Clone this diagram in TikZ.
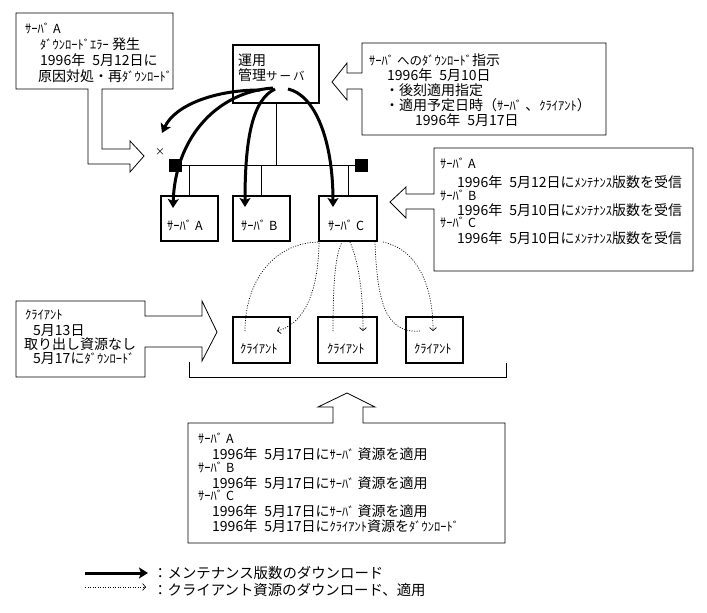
\documentclass[tikz,border=0pt]{standalone}
\usepackage{fontspec}
\setmainfont{Noto Sans CJK JP}
\usetikzlibrary{arrows.meta}
\newcommand\hk[1]{{\fontsize{12.5}{13}\selectfont #1}}
\newcommand\dsp{\hspace{7pt}}
\begin{document}
\begin{tikzpicture}[x=1pt,y=-1pt,
  box/.style={draw, line width=2pt, inner sep=0pt},
  call/.style={draw, line width=0.8pt, line join=miter},
  txt/.style={anchor=base west, inner sep=0pt, font=\fontsize{14}{16}\selectfont},
  thinl/.style={line width=0.8pt},
  maint/.style={line width=3pt, -{Stealth[length=9pt,width=11pt,inset=2pt]}},
  cli/.style={line width=0.7pt, dash pattern=on 1pt off 1.5pt, -{Straight Barb[length=3pt,width=7pt]}},
  cliline/.style={line width=0.7pt, dash pattern=on 1pt off 1.5pt},
  sq/.style={fill=black, minimum size=13pt, inner sep=0pt}]
\useasboundingbox (0,0) rectangle (707,613);
\fill[white] (0,0) rectangle (707,613);

% boxes
\node[box, minimum width=86pt, minimum height=58pt] (mgmt) at (276,74) {};
\node[box, minimum width=57pt, minimum height=45pt] (srvA) at (189.5,218.5) {};
\node[box, minimum width=57pt, minimum height=45pt] (srvB) at (261.5,218.5) {};
\node[box, minimum width=58pt, minimum height=45pt] (srvC) at (348,218.5) {};
\node[box, minimum width=57pt, minimum height=46pt] (cl1) at (261.5,340) {};
\node[box, minimum width=59pt, minimum height=46pt] (cl2) at (347.5,340) {};
\node[box, minimum width=57pt, minimum height=46pt] (cl3) at (434.5,340) {};

% network
\coordinate (busM) at (276,165);
\node[sq] (sqL) at (175,165) {};
\node[sq] (sqR) at (361,165) {};
\draw[thinl] (sqL.center) -- (sqR.center);
\draw[thinl] (mgmt.south) -- (busM);
\draw[thinl] (srvA.north |- busM) -- (srvA.north);
\draw[thinl] (srvB.north |- busM) -- (srvB.north);
\draw[thinl] (srvC.north |- busM) -- (srvC.north);

% box texts
\node[txt] (mt1) at (238,65) {運用};
\node[txt] (mt2) at (238,80) {管理{\fontsize{11.5}{12}\selectfont サ\hspace{2pt}ー\hspace{2pt}バ}};
\node[txt] (tA) at (167,230) {\hk{ｻｰﾊﾞ A}};
\node[txt] (tB) at (241,230) {\hk{ｻｰﾊﾞ B}};
\node[txt] (tC) at (328,230) {\hk{ｻｰﾊﾞ C}};
\node[txt] (t1) at (240,353) {\hk{ｸﾗｲｱﾝﾄ}};
\node[txt] (t2) at (327,353) {\hk{ｸﾗｲｱﾝﾄ}};
\node[txt] (t3) at (414,353) {\hk{ｸﾗｲｱﾝﾄ}};

% x mark
\node[inner sep=0pt, font=\fontsize{10}{10}\selectfont] (xmark) at (160,152) {×};

% maintenance arrows
\coordinate (m1) at (260,90);
\coordinate (m2) at (273,88);
\coordinate (m3) at (275,89);
\coordinate (m4) at (288,89);
\coordinate (e1) at (162,133);
\coordinate (eA) at (173,208);
\coordinate (eB) at (245,207);
\coordinate (eC) at (333,207);
\draw[maint] (m1) .. controls (215,90) and (175,105) .. (e1);
\draw[maint] (m2) .. controls (215,92) and (175,140) .. (eA);
\draw[maint] (m3) .. controls (252,100) and (245,140) .. (eB);
\draw[maint] (m4) .. controls (315,95) and (333,140) .. (eC);

% client download arrows
\coordinate (d1s) at (245,331); \coordinate (d1e) at (320,242);
\coordinate (d2s) at (319,243); \coordinate (d2e) at (277,331);
\coordinate (d3s) at (333,331); \coordinate (d3e) at (342,242);
\coordinate (d4s) at (350,242); \coordinate (d4e) at (363,331);
\coordinate (d5s) at (420,331); \coordinate (d5e) at (375,242);
\coordinate (d6s) at (383,242); \coordinate (d6e) at (433,331);
\draw[cliline] (d1s) .. controls (245,280) and (275,242) .. (d1e);
\draw[cli] (d2s) .. controls (318,300) and (300,325) .. (d2e);
\draw[cliline] (d3s) .. controls (333,270) and (337,252) .. (d3e);
\draw[cli] (d4s) .. controls (358,260) and (363,290) .. (d4e);
\draw[cliline] (d5s) .. controls (385,334) and (377,300) .. (d5e);
\draw[cli] (d6s) .. controls (420,250) and (433,290) .. (d6e);

% bracket under clients
\draw[thinl] (189,362) -- (189,377) -- (506,377) -- (506,363);

% callouts
\draw[call] (16,13) -- (173,13) -- (173,89) -- (102,89) -- (102,149) -- (130,149) -- (130,141) -- (144,156) -- (130,172) -- (130,164) -- (88,164) -- (88,89) -- (16,89) -- cycle;
\draw[call] (362,43) -- (606,43) -- (606,135) -- (362,135) -- (362,89) -- (347,89) -- (347,100) -- (332,82) -- (347,63) -- (347,73) -- (362,73) -- cycle;
\draw[call] (434,148) -- (693,148) -- (693,271) -- (434,271) -- (434,209) -- (406,209) -- (406,218) -- (390,202) -- (406,187) -- (406,194) -- (434,194) -- cycle;
\draw[call] (16,301) -- (145,301) -- (145,316) -- (202,316) -- (202,301) -- (217,332) -- (202,361) -- (202,347) -- (145,347) -- (145,377) -- (16,377) -- cycle;
\draw[call] (188,423) -- (333,423) -- (333,407) -- (318,407) -- (347,393) -- (375,407) -- (363,407) -- (363,423) -- (505,423) -- (505,543) -- (188,543) -- cycle;

% callout 1 text
\node[txt] (c1a) at (25,33) {\hk{ｻｰﾊﾞ A}};
\node[txt] (c1b) at (40,49) {\hk{ﾀﾞｳﾝﾛｰﾄﾞｴﾗｰ} 発生};
\node[txt] (c1c) at (40,65) {1996年\dsp 5月12日に};
\node[txt] (c1d) at (38,81) {原因対処・再\hk{ﾀﾞｳﾝﾛｰﾄﾞ}};

% callout 2 text
\node[txt] (c2a) at (369,65) {\hk{ｻｰﾊﾞ へのﾀﾞｳﾝﾛｰﾄﾞ}指示};
\node[txt] (c2b) at (387,80) {1996年\dsp 5月10日};
\node[txt] (c2c) at (385,95) {・後刻適用指定};
\node[txt] (c2d) at (385,110) {・適用予定日時（\hk{ｻｰﾊﾞ} 、\hk{ｸﾗｲｱﾝﾄ}）};
\node[txt] (c2e) at (415,125) {1996年\dsp 5月17日};

% callout 3 text
\node[txt] (c3a) at (440,168) {\hk{ｻｰﾊﾞ A}};
\node[txt] (c3b) at (457,187) {1996年\dsp 5月12日に\hk{ﾒﾝﾃﾅﾝｽ}版数を受信};
\node[txt] (c3c) at (440,200) {\hk{ｻｰﾊﾞ B}};
\node[txt] (c3d) at (457,215) {1996年\dsp 5月10日に\hk{ﾒﾝﾃﾅﾝｽ}版数を受信};
\node[txt] (c3e) at (440,227) {\hk{ｻｰﾊﾞ C}};
\node[txt] (c3f) at (457,243) {1996年\dsp 5月10日に\hk{ﾒﾝﾃﾅﾝｽ}版数を受信};

% callout 4 text
\node[txt] (c4a) at (25,319) {\hk{ｸﾗｲｱﾝﾄ}};
\node[txt] (c4b) at (33,335) {5月13日};
\node[txt] (c4c) at (24,349) {取り出し資源なし};
\node[txt] (c4d) at (33,363) {5月17に\hk{ﾀﾞｳﾝﾛｰﾄﾞ}};

% callout 5 text
\node[txt] (c5a) at (198,443) {\hk{ｻｰﾊﾞ A}};
\node[txt] (c5b) at (212,459) {1996年\dsp 5月17日に\hk{ｻｰﾊﾞ} 資源を適用};
\node[txt] (c5c) at (198,472) {\hk{ｻｰﾊﾞ B}};
\node[txt] (c5d) at (212,488) {1996年\dsp 5月17日に\hk{ｻｰﾊﾞ} 資源を適用};
\node[txt] (c5e) at (198,500) {\hk{ｻｰﾊﾞ C}};
\node[txt] (c5f) at (212,516) {1996年\dsp 5月17日に\hk{ｻｰﾊﾞ} 資源を適用};
\node[txt] (c5g) at (212,531) {1996年\dsp 5月17日に\hk{ｸﾗｲｱﾝﾄ}資源を\hk{ﾀﾞｳﾝﾛｰﾄﾞ}};

% legend
\coordinate (l1s) at (85,573); \coordinate (l1e) at (148,573);
\coordinate (l2s) at (85,587); \coordinate (l2e) at (146,587);
\draw[maint] (l1s) -- (l1e);
\draw[cli] (l2s) -- (l2e);
\node[txt, font=\fontsize{14.4}{16}\selectfont] (lg1) at (153,578) {：メンテナンス版数のダウンロード};
\node[txt, font=\fontsize{14.4}{16}\selectfont] (lg2) at (153,595) {：クライアント資源のダウンロード、適用};
\end{tikzpicture}
\end{document}
